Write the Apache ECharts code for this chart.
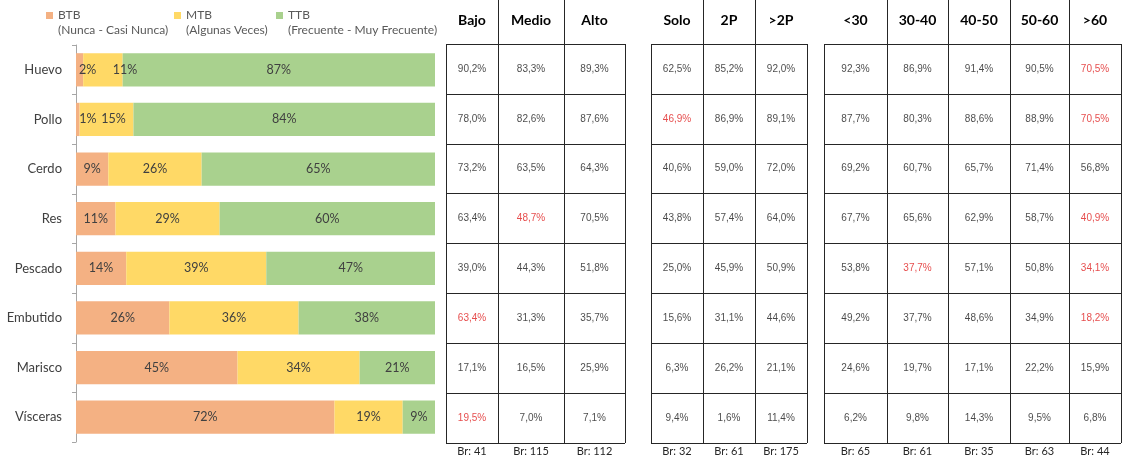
<!DOCTYPE html>
<html>
<head>
<meta charset="utf-8">
<script src="https://cdn.jsdelivr.net/npm/echarts@6/dist/echarts.min.js"></script>
<style>
html,body{margin:0;padding:0;background:#fff;}
#chart{width:1122px;height:459px;}
</style>
</head>
<body>
<div id="chart"></div>
<script>
// ---------------- DATA ----------------
const foods = ['Huevo', 'Pollo', 'Cerdo', 'Res', 'Pescado', 'Embutido', 'Marisco', 'Vísceras'];
const seriesNames = ['BTB', 'MTB', 'TTB'];
const seriesSubtitles = ['(Nunca - Casi Nunca)', '(Algunas Veces)', '(Frecuente - Muy Frecuente)'];
const btb = [2, 1, 9, 11, 14, 26, 45, 72];
const mtb = [11, 15, 26, 29, 39, 36, 34, 19];
const ttb = [87, 84, 65, 60, 47, 38, 21, 9];

const columns = ['Bajo', 'Medio', 'Alto', 'Solo', '2P', '>2P', '<30', '30-40', '40-50', '50-60', '>60'];
const bases = [41, 115, 112, 32, 61, 175, 65, 61, 35, 63, 44];
const colBajo = [90.2, 78.0, 73.2, 63.4, 39.0, 63.4, 17.1, 19.5];
const colMedio = [83.3, 82.6, 63.5, 48.7, 44.3, 31.3, 16.5, 7.0];
const colAlto = [89.3, 87.6, 64.3, 70.5, 51.8, 35.7, 25.9, 7.1];
const colSolo = [62.5, 46.9, 40.6, 43.8, 25.0, 15.6, 6.3, 9.4];
const col2P = [85.2, 86.9, 59.0, 57.4, 45.9, 31.1, 26.2, 1.6];
const colMas2P = [92.0, 89.1, 72.0, 64.0, 50.9, 44.6, 21.1, 11.4];
const colMenos30 = [92.3, 87.7, 69.2, 67.7, 53.8, 49.2, 24.6, 6.2];
const col30a40 = [86.9, 80.3, 60.7, 65.6, 37.7, 37.7, 19.7, 9.8];
const col40a50 = [91.4, 88.6, 65.7, 62.9, 57.1, 48.6, 17.1, 14.3];
const col50a60 = [90.5, 88.9, 71.4, 58.7, 50.8, 34.9, 22.2, 9.5];
const colMas60 = [70.5, 70.5, 56.8, 40.9, 34.1, 18.2, 15.9, 6.8];
const tableValues = [colBajo, colMedio, colAlto, colSolo, col2P, colMas2P, colMenos30, col30a40, col40a50, col50a60, colMas60];
// cells flagged in red: [column, food]
const highlighted = [
  ['Bajo', 'Embutido'], ['Bajo', 'Vísceras'], ['Medio', 'Res'], ['Solo', 'Pollo'],
  ['30-40', 'Pescado'], ['>60', 'Huevo'], ['>60', 'Pollo'], ['>60', 'Res'], ['>60', 'Pescado'], ['>60', 'Embutido']
];

// ---------------- LAYOUT / STYLE ----------------
const colors = ['#F4B183', '#FFD966', '#A9D18E'];
const legendLefts = [46, 174, 276];
const colEdges = [[446, 498], [498, 564], [564, 625], [651, 703], [703, 755], [755, 807],
                  [824, 887], [887, 948], [948, 1010], [1010, 1069], [1069, 1121]];
const headerDividerCols = ['Medio', '2P', '30-40', '50-60'];
const labelShift = { '0-0': 8, '0-1': 22, '1-0': 10, '1-1': 7 }; // series-row : px
const lineCol = '#262626';
const tableTop = 44, tableHeight = 399;

const chart = echarts.init(document.getElementById('chart'), null, { renderer: 'canvas' });

const grids = [{ left: 76, top: 45, width: 359, height: 397 }];
const xAxes = [{
  gridIndex: 0, type: 'value', min: 0, max: 100, show: false
}];
const yAxes = [{
  gridIndex: 0, type: 'category', data: foods, inverse: true,
  axisLine: { show: true, lineStyle: { color: '#A6A6A6', width: 1 } },
  axisTick: { show: true, length: 4, lineStyle: { color: '#A6A6A6' } },
  axisLabel: { color: '#404040', fontFamily: 'Lato', fontSize: 13, margin: 14 },
  splitLine: { show: false }
}];
const bars = [btb, mtb, ttb];
const series = bars.map((arr, si) => ({
  name: seriesNames[si], type: 'bar', stack: 'total',
  xAxisIndex: 0, yAxisIndex: 0, barCategoryGap: '33%',
  itemStyle: { color: colors[si] },
  label: {
    show: true, position: 'inside', color: '#404040', fontFamily: 'Lato', fontSize: 12.5,
    formatter: p => p.value + '%'
  },
  data: arr.map((v, ri) => {
    const sh = labelShift[ri + '-' + si];
    return sh ? { value: v, label: { offset: [sh, 0] } } : v;
  })
}));

const fmt = v => v.toFixed(1).replace('.', ',') + '%';
const isRed = (c, f) => highlighted.some(h => h[0] === c && h[1] === f);

columns.forEach((col, ci) => {
  const gi = grids.length;
  const [x0, x1] = colEdges[ci];
  grids.push({ left: x0, top: tableTop, width: x1 - x0, height: tableHeight });
  const topIdx = xAxes.length;
  xAxes.push({
    gridIndex: gi, type: 'category', data: [col], position: 'top',
    axisLine: { show: false },
    axisTick: { show: headerDividerCols.includes(col), length: 44, lineStyle: { color: lineCol, width: 1 } },
    axisLabel: { color: '#000', fontFamily: 'Lato', fontWeight: 'bold', fontSize: 14, margin: 24, verticalAlign: 'middle' },
    splitLine: { show: true, lineStyle: { color: lineCol, width: 1 } }
  });
  xAxes.push({
    gridIndex: gi, type: 'category', data: ['Br: ' + bases[ci]], position: 'bottom',
    axisLine: { show: false }, axisTick: { show: false },
    axisLabel: { color: '#262626', fontFamily: 'Lato', fontSize: 11, margin: 8, verticalAlign: 'middle', interval: 0 },
    splitLine: { show: false }
  });
  const yIdx = yAxes.length;
  yAxes.push({
    gridIndex: gi, type: 'category', data: foods, inverse: true,
    axisLine: { show: false }, axisTick: { show: false }, axisLabel: { show: false },
    splitLine: { show: true, lineStyle: { color: lineCol, width: 1 } }
  });
  series.push({
    type: 'scatter', xAxisIndex: topIdx, yAxisIndex: yIdx, symbolSize: 0, silent: true,
    label: {
      show: true, position: 'inside', fontFamily: 'Liberation Sans', fontSize: 10,
      formatter: p => fmt(p.value[2])
    },
    data: foods.map((f, ri) => ({
      value: [col, f, tableValues[ci][ri]],
      label: { color: isRed(col, f) ? '#E02020' : '#1a1a1a' }
    }))
  });
});

const legends = seriesNames.map((n, i) => ({
  left: legendLefts[i], top: 8, padding: 0, selectedMode: false,
  data: [n],
  itemWidth: 7, itemHeight: 28,
  icon: 'path://M0,0H0.01V0.01H0Z M0,4.3H10V14.3H0Z M0,39.99H0.01V40H0Z',
  formatter: name => name + '\n' + seriesSubtitles[seriesNames.indexOf(name)],
  textStyle: { color: '#595959', fontFamily: 'Lato', fontSize: 12, lineHeight: 15 }
}));

chart.setOption({
  animation: false,
  backgroundColor: '#fff',
  legend: legends,
  grid: grids,
  xAxis: xAxes,
  yAxis: yAxes,
  series: series
});
</script>
</body>
</html>
